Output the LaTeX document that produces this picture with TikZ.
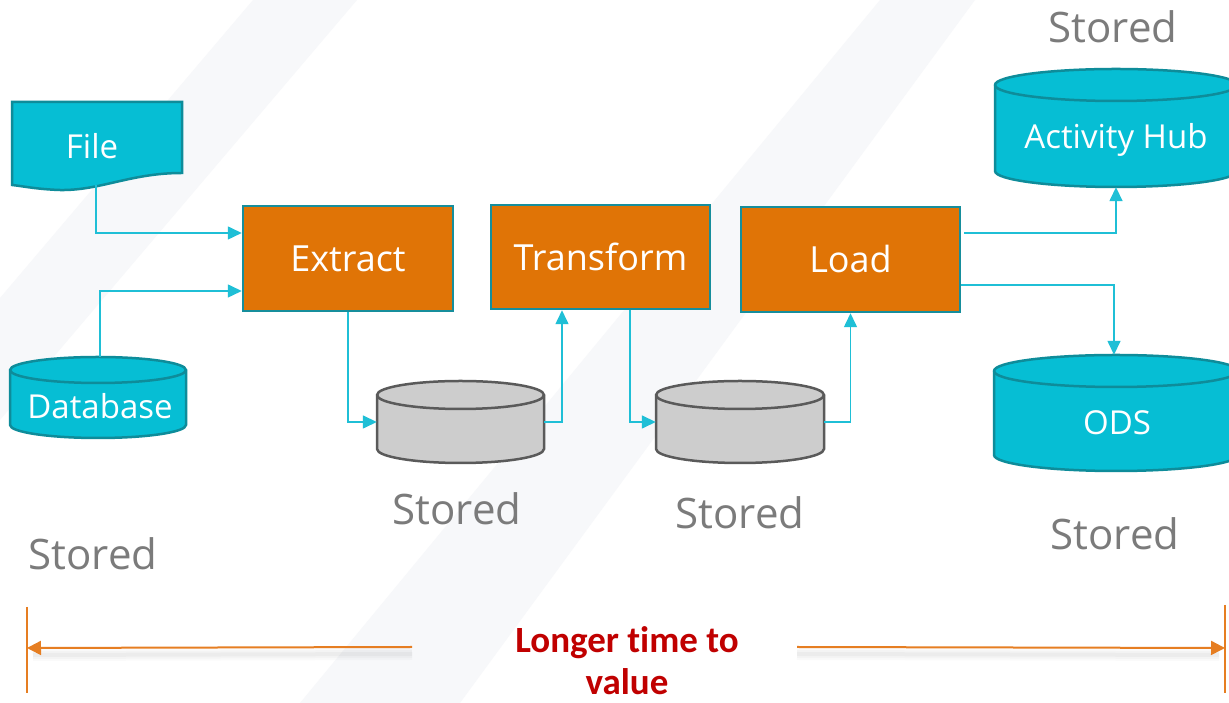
\documentclass[tikz,border=0pt]{standalone}
\usepackage{fontspec}
\setmainfont{Open Sans}
\newfontfamily\calfont[Ligatures=NoCommon]{Carlito}
\usetikzlibrary{arrows.meta,calc}

\definecolor{cyanfill}{HTML}{06BED4}
\definecolor{cyanedge}{HTML}{0E8C9A}
\definecolor{orangefill}{HTML}{E07406}
\definecolor{boxedge}{HTML}{168E9C}
\definecolor{grayfill}{HTML}{CDCDCD}
\definecolor{grayedge}{HTML}{5A5A5A}
\definecolor{linkcol}{HTML}{1FBFD6}
\definecolor{storedgray}{HTML}{7B7B7B}
\definecolor{tline}{HTML}{E67E22}
\definecolor{darkred}{HTML}{C00000}
\definecolor{band}{HTML}{F7F8FA}

% drum (cylinder) drawn from its centre, half width, half height and cap radius
\newcommand\drumshape[7]{%
  \path[#7] (#2-#4,#3+#5-#6) -- (#2-#4,#3-#5+#6)
    arc[start angle=180,end angle=360,x radius=#4,y radius=#6]
    -- (#2+#4,#3+#5-#6)
    arc[start angle=0,end angle=180,x radius=#4,y radius=#6] -- cycle;
  \path[#7,fill=none] (#2+#4,#3+#5-#6)
    arc[start angle=0,end angle=-180,x radius=#4,y radius=#6];
  \node[inner sep=0,minimum width={2*#4},minimum height={2*#5}] (#1) at (#2,#3) {};
}

\tikzset{
  procbox/.style={draw=boxedge,line width=2.5pt,fill=orangefill,text=white,
    inner sep=0,font=\fontsize{36}{40}\selectfont},
  cyandrum/.style={draw=cyanedge,line width=2.5pt,fill=cyanfill},
  graydrum/.style={draw=grayedge,line width=2.5pt,fill=grayfill},
  drumtext/.style={text=white,font=\fontsize{33}{36}\selectfont},
  link/.style={draw=linkcol,line width=1.5pt,-{Triangle[length=14pt,width=13pt]}},
  storedlbl/.style={text=storedgray,font=\fontsize{42}{46}\selectfont},
  timeline/.style={draw=tline,line width=2pt,-{Triangle[length=14pt,width=14pt]}},
  timebar/.style={draw=tline,line width=1.5pt},
}

\begin{document}
\begin{tikzpicture}[x=1pt,y=1pt]
\useasboundingbox (0,0) rectangle (1229,703);
\fill[white] (0,0) rectangle (1229,703);
\begin{scope}
\clip (0,0) rectangle (1229,703);

% faint diagonal background bands
\fill[band] (253,703) -- (357,703) -- (0,283) -- (0,405) -- cycle;
\fill[band] (880,703) -- (975,703) -- (460,0) -- (300,0) -- cycle;

% source file (document shape)
\path[cyandrum] (12,601) -- (182,601) -- (182,530)
  .. controls (130,530) and (100,512) .. (59,513)
  .. controls (35,514) and (22,517) .. (12,518) -- cycle;
\node[drumtext,inner sep=0,minimum width=170,minimum height=82] (file) at (97,559.5) {};
\node[drumtext] (filetext) at (92,557) {File};

% source database
\drumshape{db}{98}{305.5}{88}{40.5}{13}{cyandrum}
\node[drumtext] (dbtext) at (100,297) {Database};

% process steps
\node[procbox,minimum width=210,minimum height=105] (extract) at (348,444.5) {Extract};
\node[procbox,minimum width=219,minimum height=104] (transform) at (600.5,446) {Transform};
\node[procbox,minimum width=219,minimum height=105] (load) at (850.5,443.5) {Load};

% intermediate stores
\drumshape{stA}{460.5}{281}{83.5}{41}{14}{graydrum}
\drumshape{stB}{740}{281}{84}{41}{14}{graydrum}

% targets
\drumshape{hub}{1116}{575}{121}{59}{16}{cyandrum}
\node[drumtext] (hubtext) at (1116,563) {Activity Hub};
\drumshape{ods}{1116}{290}{122}{58}{16}{cyandrum}
\node[drumtext] (odstext) at (1117,280) {ODS};

% connectors
\draw[link] ([xshift=-1pt]file.south) |- ([yshift=25.5pt]extract.west);
\draw[link] ([xshift=2pt]db.north) |- ([yshift=-32.5pt]extract.west);
\draw[link] (extract.south) |- (stA.west);
\draw[link] (stA.east) -| ([xshift=-38.5pt]transform.south);
\draw[link] ([xshift=29.5pt]transform.south) |- (stB.west);
\draw[link] (stB.east) -| (load.south);
\draw[link] ([shift={(3pt,26.5pt)}]load.east) -| (hub.south);
\draw[link] ([yshift=-25.5pt]load.east) -| ([xshift=-2pt]ods.north);

% "Stored" captions
\node[storedlbl] (s1) at (1113,676) {Stored};
\node[storedlbl] (s2) at (457,194) {Stored};
\node[storedlbl] (s3) at (740,190) {Stored};
\node[storedlbl] (s4) at (1115,169) {Stored};
\node[storedlbl] (s5) at (93,149) {Stored};

% time-to-value span
\coordinate (lbar) at (27,55);
\coordinate (rbar) at (1225,55);
\coordinate (lstart) at (412,56);
\coordinate (rstart) at (797,56);
\foreach \w/\o in {12/0.02,8/0.025,4/0.03}{
  \draw[black,opacity=\o,line width=\w pt] ([yshift=-7pt]lstart) -- ([shift={(6pt,-7pt)}]lbar);
  \draw[black,opacity=\o,line width=\w pt] ([yshift=-7pt]rstart) -- ([shift={(-6pt,-7pt)}]rbar);
}
\draw[timebar] ([yshift=41pt]lbar) -- ([yshift=-45pt]lbar);
\draw[timebar] ([yshift=43pt]rbar) -- ([yshift=-45pt]rbar);
\draw[timeline] (lstart) -- (lbar);
\draw[timeline] (rstart) -- (rbar);
\node[text=darkred,align=center,anchor=north,inner sep=0,
  font=\calfont\bfseries\fontsize{37}{42}\selectfont] (ttv) at (627,77) {Longer time to\\value};
\end{scope}
\end{tikzpicture}
\end{document}
